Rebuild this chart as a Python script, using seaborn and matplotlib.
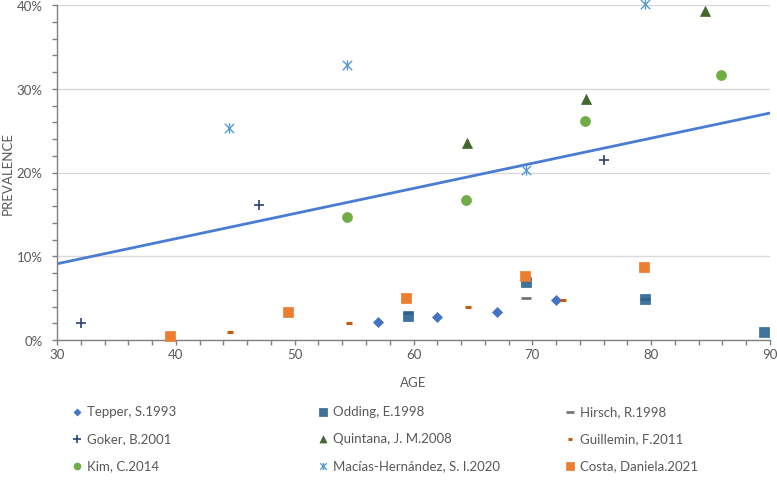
import matplotlib
matplotlib.use('Agg')
import matplotlib.pyplot as plt
import seaborn as sns
import pandas as pd
from matplotlib.path import Path
from matplotlib.ticker import MultipleLocator, FuncFormatter

# ---------------- data ----------------
tepper_age = [57, 62, 67, 72]
tepper_prev = [2.1, 2.7, 3.4, 4.8]
odding_age = [59.5, 69.5, 79.5, 89.5]
odding_prev = [2.9, 6.9, 4.9, 1.0]
hirsch_age = [59.5, 69.5, 79.5]
hirsch_prev = [3.2, 5.0, 4.9]
goker_age = [32, 47, 76]
goker_prev = [2.0, 16.1, 21.5]
quintana_age = [64.5, 74.5, 84.5]
quintana_prev = [23.5, 28.8, 39.3]
guillemin_age = [44.6, 54.6, 64.6, 72.6]
guillemin_prev = [0.9, 2.0, 3.9, 4.8]
kim_age = [54.4, 64.4, 74.4, 85.9]
kim_prev = [14.7, 16.7, 26.1, 31.6]
macias_age = [44.5, 54.4, 69.5, 79.5]
macias_prev = [25.3, 32.8, 20.3, 40.1]
costa_age = [39.5, 49.4, 59.4, 69.4, 79.4]
costa_prev = [0.5, 3.3, 5.0, 7.6, 8.7]

trend_age = [30, 90]
trend_prev = [9.1, 27.1]

labels = ["Tepper, S.1993", "Odding, E.1998", "Hirsch, R.1998",
          "Goker, B.2001", "Quintana, J. M.2008", "Guillemin, F.2011",
          "Kim, C.2014", "Macías-Hernández, S. I.2020", "Costa, Daniela.2021"]

# ---------------- style ----------------
sns.set_style('white')
plt.rcParams['font.family'] = ['Lato', 'DejaVu Sans']
TXT = '#595959'
AXC = '#808080'

dash = Path([(-0.5, 0), (0.5, 0)], [Path.MOVETO, Path.LINETO])
star = Path([(-0.5, -0.5), (0.5, 0.5), (-0.5, 0.5), (0.5, -0.5), (0, -0.55), (0, 0.55)],
            [Path.MOVETO, Path.LINETO] * 3)

series = [
    # ages, prevs, marker, color, size, lw, zorder, alpha, filled
    (tepper_age, tepper_prev, 'D', '#4472C4', 26, 0.5, 3, 1.0, True),
    (odding_age, odding_prev, 's', '#255E91', 52, 0.5, 4, 0.88, True),
    (hirsch_age, hirsch_prev, dash, '#767676', 52, 2.0, 3.5, 1.0, True),
    (goker_age, goker_prev, '+', '#264478', 55, 1.2, 5, 1.0, False),
    (quintana_age, quintana_prev, '^', '#43682B', 52, 0.5, 6, 1.0, True),
    (guillemin_age, guillemin_prev, dash, '#C55A11', 14, 2.2, 7, 1.0, True),
    (kim_age, kim_prev, 'o', '#70AD47', 52, 0.5, 8, 1.0, True),
    (macias_age, macias_prev, star, '#5B9BD5', 55, 1.0, 9, 1.0, True),
    (costa_age, costa_prev, 's', '#ED7D31', 52, 0.5, 10, 1.0, True),
]

fig = plt.figure(figsize=(7.77, 4.81), dpi=100)
ax = fig.add_axes([57 / 777, 1 - 341 / 481, (770 - 57) / 777, (341 - 6) / 481])

sns.lineplot(x=trend_age, y=trend_prev, ax=ax, color='#4A7CD2', linewidth=2.0, zorder=2)

for (ages, prevs, m, c, s, lw, z, a, filled), lab in zip(series, labels):
    df = pd.DataFrame({'Age': ages, 'Prevalence': prevs})
    kw = dict(marker=m, color=c, s=s, linewidth=lw, zorder=z, alpha=a, clip_on=False, label=lab)
    if filled:
        kw['edgecolor'] = c
    sns.scatterplot(data=df, x='Age', y='Prevalence', ax=ax, **kw)

if ax.get_legend() is not None:
    ax.get_legend().remove()

ax.set_xlim(30, 90)
ax.set_ylim(0, 40)
ax.xaxis.set_major_locator(MultipleLocator(10))
ax.xaxis.set_minor_locator(MultipleLocator(2))
ax.yaxis.set_major_locator(MultipleLocator(10))
ax.yaxis.set_minor_locator(MultipleLocator(2))
ax.yaxis.set_major_formatter(FuncFormatter(lambda v, p: f'{v:.0f}%'))

ax.tick_params(which='both', bottom=True, left=True, direction='out', length=3.5,
               width=1, color=AXC, labelsize=9.5, labelcolor=TXT)
ax.tick_params(axis='y', which='both', pad=7)
ax.tick_params(axis='x', which='both', pad=2)
ax.yaxis.grid(True, which='major', color='#D9D9D9', linewidth=1)
ax.xaxis.grid(False)
ax.set_axisbelow(True)
for sp in ['top', 'right']:
    ax.spines[sp].set_visible(False)
for sp in ['left', 'bottom']:
    ax.spines[sp].set_color(AXC)
    ax.spines[sp].set_linewidth(1)

ax.set_xlabel('AGE', fontsize=9.5, color=TXT)
ax.set_ylabel('PREVALENCE', fontsize=9.5, color=TXT)
ax.xaxis.set_label_coords(0.5, -(377 - 341) / 335)
ax.yaxis.set_label_coords(-(57 - 14) / 713, 0.5)

# ---------------- legend: three columns ----------------
handles, labs = ax.get_legend_handles_labels()
hmap = dict(zip(labs, handles))
col_x = [72, 318, 565]
for ci in range(3):
    hs = [hmap[labels[ci + 3 * r]] for r in range(3)]
    ls = [labels[ci + 3 * r] for r in range(3)]
    fig.legend(hs, ls, loc='upper left', bbox_to_anchor=(col_x[ci] / 777, 1 - 406 / 481),
               frameon=False, fontsize=9.5, labelcolor=TXT, markerscale=0.7,
               handlelength=0.8, handletextpad=0.3, labelspacing=1.15,
               borderpad=0, borderaxespad=0)

fig.savefig('out.png', dpi=100)
